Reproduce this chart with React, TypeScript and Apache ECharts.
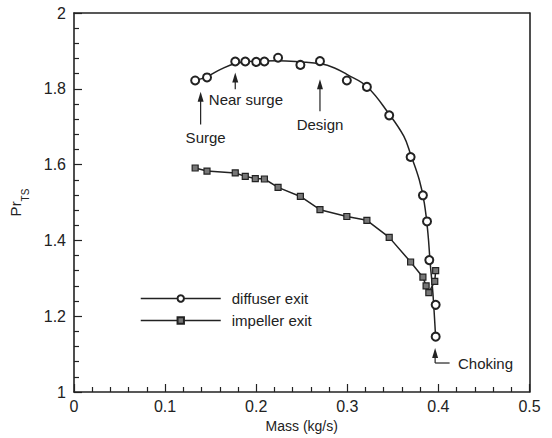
import React, { useEffect, useRef } from 'react';
import * as echarts from 'echarts';

// Diffuser exit (circles) measured points
const diffuserMass = [0.133, 0.146, 0.177, 0.188, 0.2, 0.209, 0.224, 0.2485, 0.27, 0.2995, 0.3215, 0.346, 0.3695, 0.383, 0.3875, 0.39, 0.397, 0.397];
const diffuserPr = [1.822, 1.83, 1.872, 1.872, 1.871, 1.872, 1.882, 1.863, 1.873, 1.822, 1.805, 1.73, 1.62, 1.519, 1.45, 1.348, 1.23, 1.146];

// Diffuser exit fitted curve
const diffuserFitMass = [0.133, 0.146, 0.1615, 0.177, 0.1955, 0.224, 0.2485, 0.271, 0.286, 0.2995, 0.3215, 0.346, 0.362, 0.3695, 0.379, 0.3845, 0.3885, 0.391, 0.394, 0.397];
const diffuserFitPr = [1.822, 1.832, 1.852, 1.867, 1.873, 1.874, 1.871, 1.866, 1.855, 1.838, 1.806, 1.733, 1.675, 1.627, 1.56, 1.499, 1.419, 1.34, 1.26, 1.141];

// Impeller exit (squares)
const impellerMass = [0.133, 0.146, 0.177, 0.188, 0.199, 0.209, 0.224, 0.2485, 0.27, 0.2995, 0.3215, 0.346, 0.3695, 0.383, 0.3865, 0.3895, 0.396, 0.397];
const impellerPr = [1.591, 1.583, 1.578, 1.569, 1.563, 1.562, 1.54, 1.516, 1.481, 1.463, 1.453, 1.408, 1.343, 1.303, 1.28, 1.262, 1.292, 1.32];

// Annotations (data units)
const noteLabels = ['Surge', 'Near surge', 'Design'];
const noteArrowX = [0.139, 0.177, 0.27];
const noteArrowTail = [1.706, 1.799, 1.741];
const noteArrowHead = [1.792, 1.843, 1.825];
const noteTextX = [0.1445, 0.148, 0.27];
const noteTextY = [1.671, 1.771, 1.706];
const noteTextAlign = ['center', 'left', 'center'];

const chokeLabel = 'Choking';
const chokeArrowX = 0.3964;
const chokeHeadY = 1.116;
const chokeBendY = 1.0765;
const chokeEndX = 0.4123;
const chokeTextX = 0.4215;

const FONT = '"Liberation Sans", Arial, sans-serif';
const INK = '#222';

export default function App() {
  const ref = useRef<HTMLDivElement>(null);
  useEffect(() => {
    document.body.style.margin = '0';
    if (!ref.current) return;
    const chart = echarts.init(ref.current, undefined, { renderer: 'svg' });
    const axisBase = {
      axisLine: { show: true, onZero: false, lineStyle: { color: INK, width: 1.6 } },
      splitLine: { show: false },
    };
    const option: any = {
      animation: false,
      backgroundColor: '#fff',
      textStyle: { fontFamily: FONT },
      grid: { left: 65, right: 22.5, top: 13, bottom: 46 },
      legend: {
        orient: 'vertical',
        left: 135,
        top: 286,
        itemWidth: 80,
        itemHeight: 8,
        itemGap: 7,
        lineStyle: { width: 1.5, color: INK },
        textStyle: { fontSize: 15, color: INK, fontFamily: FONT, padding: [0, 0, 0, 6] },
        data: [
          { name: 'diffuser exit', lineStyle: { width: 1.5, color: INK } },
          { name: 'impeller exit', lineStyle: { width: 1.5, color: INK } },
        ],
      },
      xAxis: [
        {
          ...axisBase,
          type: 'value',
          min: 0,
          max: 0.5,
          interval: 0.1,
          position: 'bottom',
          name: 'Mass (kg/s)',
          nameLocation: 'middle',
          nameGap: 25,
          nameTextStyle: { fontSize: 14, color: INK, fontFamily: FONT },
          axisTick: { show: true, inside: true, length: 8, lineStyle: { color: INK, width: 1.2 } },
          minorTick: { show: true, splitNumber: 5, length: 5, lineStyle: { color: INK, width: 1.2 } },
          axisLabel: { fontSize: 16, color: INK, fontFamily: FONT, margin: 6 },
        },
        {
          ...axisBase,
          type: 'value',
          min: 0,
          max: 0.5,
          position: 'top',
          axisTick: { show: false },
          axisLabel: { show: false },
        },
      ],
      yAxis: [
        {
          ...axisBase,
          type: 'value',
          min: 1,
          max: 2,
          interval: 0.2,
          position: 'left',
          name: '{a|Pr}{b|TS}',
          nameLocation: 'middle',
          nameGap: 44,
          nameTextStyle: {
            color: INK,
            fontFamily: FONT,
            rich: {
              a: { fontSize: 15, color: INK, fontFamily: FONT, lineHeight: 22, verticalAlign: 'top' },
              b: { fontSize: 10, color: INK, fontFamily: FONT, lineHeight: 10, verticalAlign: 'bottom' },
            },
          },
          axisTick: { show: true, inside: true, length: 8, lineStyle: { color: INK, width: 1.2 } },
          minorTick: { show: true, splitNumber: 5, length: 5, lineStyle: { color: INK, width: 1.2 } },
          axisLabel: { fontSize: 16, color: INK, fontFamily: FONT, margin: 8 },
        },
        {
          ...axisBase,
          type: 'value',
          min: 1,
          max: 2,
          position: 'right',
          axisTick: { show: false },
          axisLabel: { show: false },
        },
      ],
      series: [
        {
          name: 'diffuser fit',
          type: 'line',
          data: diffuserFitMass.map((m, i) => [m, diffuserFitPr[i]]),
          smooth: 0.4,
          symbol: 'none',
          silent: true,
          lineStyle: { color: INK, width: 1.5 },
          z: 2,
        },
        {
          name: 'diffuser exit',
          type: 'line',
          data: diffuserMass.map((m, i) => [m, diffuserPr[i]]),
          symbol: 'emptyCircle',
          symbolSize: 8,
          lineStyle: { width: 0, color: INK },
          itemStyle: { color: INK, borderColor: INK, borderWidth: 1.5 },
          z: 3,
        },
        {
          name: 'impeller exit',
          type: 'line',
          data: impellerMass.map((m, i) => [m, impellerPr[i]]),
          symbol: 'rect',
          symbolSize: 6,
          lineStyle: { width: 1.5, color: INK },
          itemStyle: { color: '#777', borderColor: INK, borderWidth: 1.2 },
          z: 3,
        },
      ],
    };
    chart.setOption(option);

    const px = (x: number, y: number) => chart.convertToPixel({ xAxisIndex: 0, yAxisIndex: 0 }, [x, y]) as number[];
    const graphics: any[] = [];
    const arrowUp = (x: number, yTail: number, yHead: number) => {
      const t = px(x, yTail);
      const h = px(x, yHead);
      graphics.push({ type: 'line', shape: { x1: t[0], y1: t[1], x2: h[0], y2: h[1] + 8 }, style: { stroke: INK, lineWidth: 1.2 } });
      graphics.push({ type: 'polygon', shape: { points: [[h[0], h[1]], [h[0] - 3, h[1] + 10], [h[0] + 3, h[1] + 10]] }, style: { fill: INK } });
    };
    noteLabels.forEach((label, i) => {
      arrowUp(noteArrowX[i], noteArrowTail[i], noteArrowHead[i]);
      const p = px(noteTextX[i], noteTextY[i]);
      graphics.push({
        type: 'text', x: p[0], y: p[1],
        style: { text: label, fontSize: 15, fontFamily: FONT, fill: INK, align: noteTextAlign[i], verticalAlign: 'middle' },
      });
    });
    // Choking
    arrowUp(chokeArrowX, chokeBendY, chokeHeadY);
    const b = px(chokeArrowX, chokeBendY);
    const e = px(chokeEndX, chokeBendY);
    graphics.push({ type: 'line', shape: { x1: b[0], y1: b[1], x2: e[0], y2: e[1] }, style: { stroke: INK, lineWidth: 1.2 } });
    const ct = px(chokeTextX, chokeBendY);
    graphics.push({
      type: 'text', x: ct[0], y: ct[1],
      style: { text: chokeLabel, fontSize: 15, fontFamily: FONT, fill: INK, align: 'left', verticalAlign: 'middle' },
    });
    chart.setOption({ graphic: graphics });

    return () => chart.dispose();
  }, []);
  return <div ref={ref} style={{ width: 552, height: 438 }} />;
}
